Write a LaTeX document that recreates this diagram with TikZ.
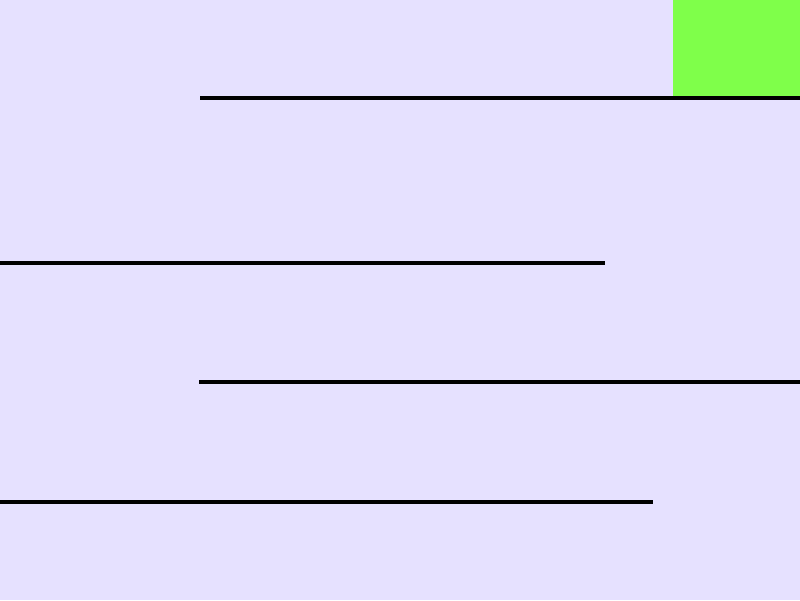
\documentclass[tikz,border=0pt]{standalone}
\definecolor{bglav}{RGB}{230,225,255}
\definecolor{boxgreen}{RGB}{127,255,74}
\begin{document}
\begin{tikzpicture}[x=1pt,y=-1pt,
  barline/.style={draw=black,line width=4pt,line cap=butt}]
\fill[bglav] (0,0) rectangle (800,600);
\useasboundingbox (0,0) rectangle (800,600);
\fill[boxgreen] (673,0) rectangle (800,96);
\coordinate (a1) at (200,98);  \coordinate (a2) at (800,98);
\coordinate (b1) at (0,263);   \coordinate (b2) at (605,263);
\coordinate (c1) at (199,382); \coordinate (c2) at (800,382);
\coordinate (d1) at (0,502);   \coordinate (d2) at (653,502);
\draw[barline] (a1) -- (a2);
\draw[barline] (b1) -- (b2);
\draw[barline] (c1) -- (c2);
\draw[barline] (d1) -- (d2);
\end{tikzpicture}
\end{document}
